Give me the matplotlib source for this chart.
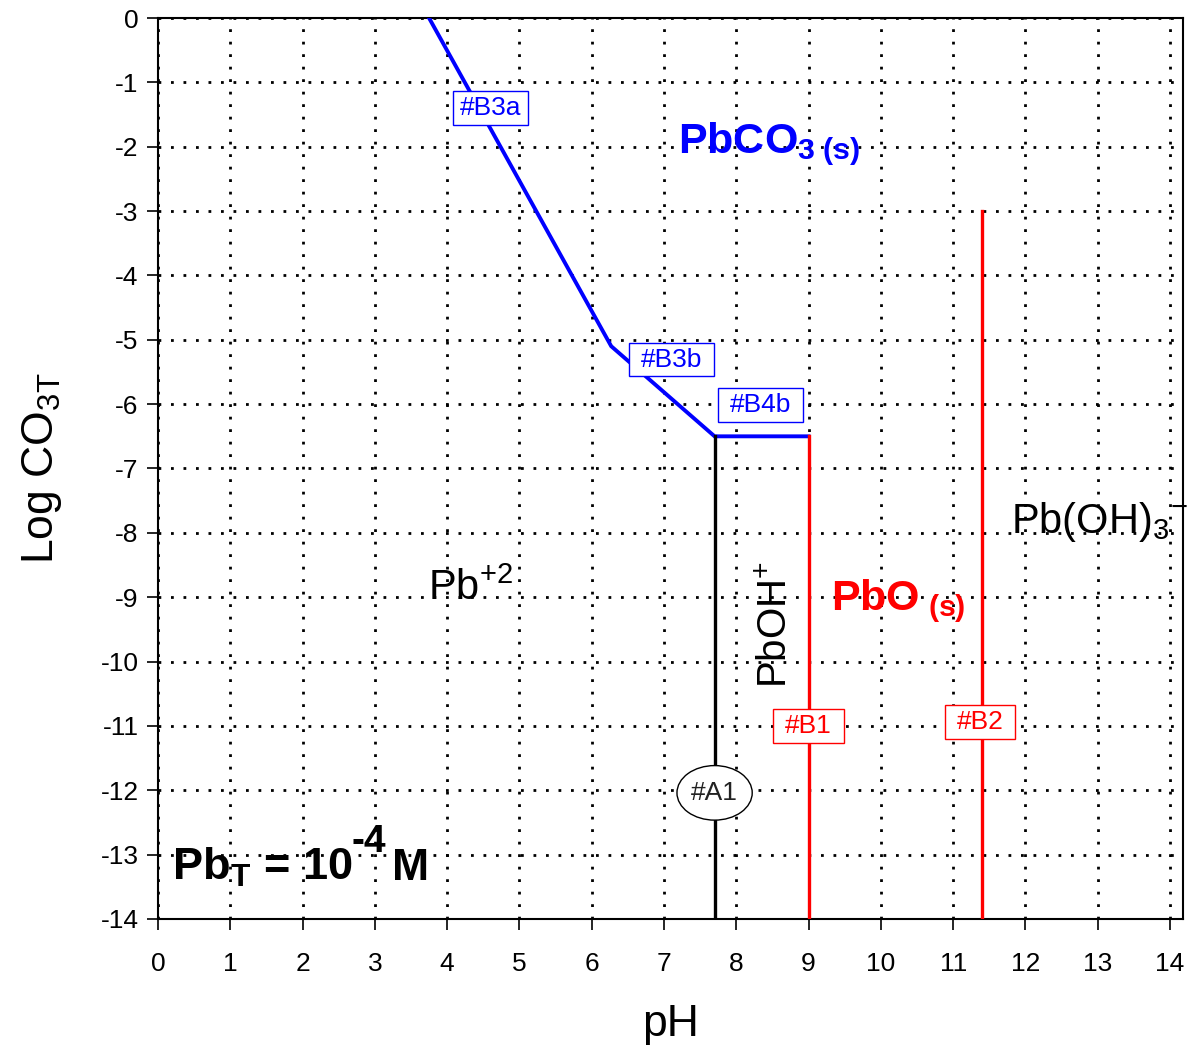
#!/usr/bin/env python
# -*- coding: utf-8 -*-
"""Predominance diagram Log CO3T vs pH for lead (Pb_T = 1e-4 M)."""
import matplotlib
matplotlib.use('Agg')
import matplotlib.pyplot as plt

plt.rcParams['font.family'] = ['Liberation Sans', 'DejaVu Sans']
plt.rcParams['mathtext.fontset'] = 'custom'
plt.rcParams['mathtext.rm'] = 'Liberation Sans'
plt.rcParams['mathtext.it'] = 'Liberation Sans'
plt.rcParams['mathtext.bf'] = 'Liberation Sans:bold'
plt.rcParams['axes.unicode_minus'] = False

# boundary lines (pH, log CO3T)
pbco3_ph = [3.75, 6.27, 7.7, 9.0]
pbco3_logc = [0.0, -5.1, -6.5, -6.5]
a1_ph = [7.7, 7.7]
a1_logc = [-6.5, -14.0]
b1_ph = [9.0, 9.0]
b1_logc = [-6.5, -14.0]
b2_ph = [11.4, 11.4]
b2_logc = [-3.0, -14.0]

# equation tags
tag_names = ['#B3a', '#B3b', '#B4b', '#B1', '#B2', '#A1']
tag_ph = [4.60, 7.10, 8.34, 9.00, 11.37, 7.70]
tag_logc = [-1.40, -5.31, -6.01, -11.00, -10.94, -12.04]
tag_colors = ['blue', 'blue', 'blue', 'red', 'red', '#222222']

x_ticks = list(range(0, 15))
y_ticks = list(range(0, -15, -1))

fig = plt.figure(figsize=(11.92, 10.51), dpi=100)
ax = fig.add_axes([158 / 1192, 1 - 919 / 1051, 1025 / 1192, 901 / 1051])

ax.plot(pbco3_ph, pbco3_logc, color='blue', lw=2.8, solid_joinstyle='miter', zorder=3)
ax.plot(a1_ph, a1_logc, color='black', lw=2.4, zorder=3)
ax.plot(b1_ph, b1_logc, color='red', lw=2.4, zorder=3)
ax.plot(b2_ph, b2_logc, color='red', lw=2.4, zorder=3)

for name, px, py, col in zip(tag_names, tag_ph, tag_logc, tag_colors):
    if name == '#A1':
        box = dict(boxstyle='ellipse,pad=0.12', fc='white', ec='black', lw=1.0,
                   mutation_aspect=2.3)
    elif name == '#B3a':
        box = dict(boxstyle='square,pad=0.27', fc='white', ec=col, lw=1.0,
                   mutation_aspect=0.18 / 0.27)
    else:
        box = dict(boxstyle='square,pad=0.45', fc='white', ec=col, lw=1.0,
                   mutation_aspect=0.18 / 0.45)
    ax.text(px, py, name, color=col, fontsize=19, ha='center', va='center',
            bbox=box, zorder=5)

# region labels
ax.text(7.19, -2.10, r'$\mathbf{PbCO_{3\ (s)}}$', color='blue', fontsize=31,
        ha='left', va='baseline', zorder=4)
ax.text(3.74, -9.04, r'Pb$^{+2}$', color='black', fontsize=30,
        ha='left', va='baseline', zorder=4)
ax.text(8.55, -9.43, r'PbOH$^{+}$', color='black', fontsize=29, rotation=90,
        ha='center', va='center', zorder=4)
ax.text(9.31, -9.2, r'$\mathbf{PbO_{\ (s)}}$', color='red', fontsize=31,
        ha='left', va='baseline', zorder=4)
ax.text(11.8, -8.0, r'Pb(OH)$_3$$^{-}$', color='black', fontsize=30,
        ha='left', va='baseline', zorder=4, clip_on=False)

# total lead note
ax.text(0.19, -13.39, r'Pb$_\mathbf{T}$ = 10', color='black', fontsize=32.5,
        fontweight='bold', ha='left', va='baseline', zorder=4)
ax.text(2.68, -12.96, '-4', color='black', fontsize=28, fontweight='bold',
        ha='left', va='baseline', zorder=4)
ax.text(3.24, -13.39, 'M', color='black', fontsize=32, fontweight='bold',
        ha='left', va='baseline', zorder=4)

ax.set_xlim(0, 14.18)
ax.set_ylim(-14, 0)
ax.set_xticks(x_ticks)
ax.set_yticks(y_ticks)
ax.set_xticklabels([str(v) for v in x_ticks])
ax.set_yticklabels([str(v) for v in y_ticks])
ax.grid(True, color='black', linestyle=(0, (1, 3.5)), lw=2.0)
ax.tick_params(axis='x', direction='out', length=8, width=1.2, pad=16, labelsize=19)
ax.tick_params(axis='y', direction='out', length=8, width=1.2, pad=6, labelsize=19)
for sp in ax.spines.values():
    sp.set_linewidth(1.5)

ax.set_xlabel('pH', fontsize=32, labelpad=20)
ax.set_ylabel(r'Log CO$_{3T}$', fontsize=32, labelpad=26)

plt.savefig('out.png', dpi=100)
plt.close()
